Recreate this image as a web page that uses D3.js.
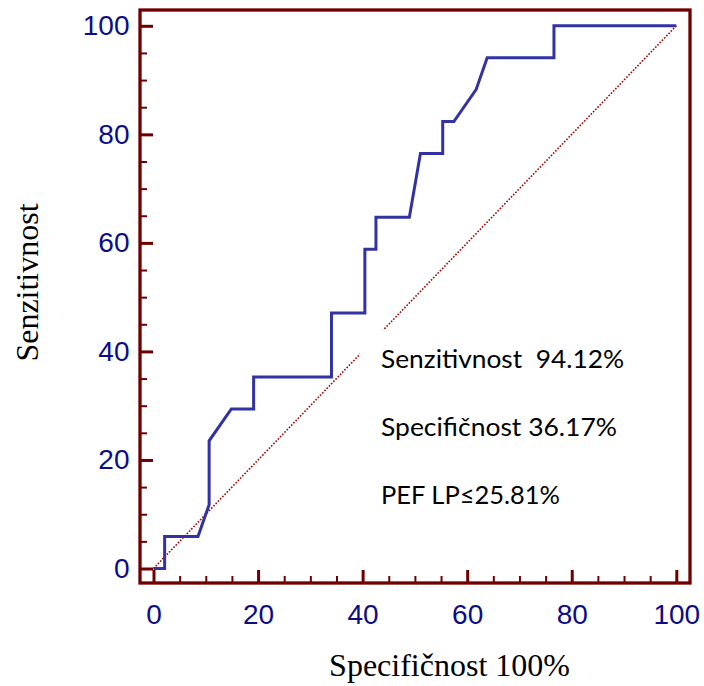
<!DOCTYPE html>
<html>
<head>
<meta charset="utf-8">
<script src="https://cdn.jsdelivr.net/npm/d3@7"></script>
<style>
  body { margin: 0; background: #fff; }
</style>
</head>
<body>
<div id="roc"></div>
<script>
// ROC curve points: 100 - specificity (x) and sensitivity (y), in %
const fpr = [0, 2.13, 2.13, 8.51, 10.64, 10.64, 14.89, 19.15, 19.15, 34.04, 34.04, 40.43, 40.43,
             42.55, 42.55, 48.94, 51.06, 55.32, 55.32, 57.45, 61.70, 63.83, 76.60, 76.60, 100];
const tpr = [0, 0, 5.88, 5.88, 11.76, 23.53, 29.41, 29.41, 35.29, 35.29, 47.06, 47.06, 58.82,
             58.82, 64.71, 64.71, 76.47, 76.47, 82.35, 82.35, 88.24, 94.12, 94.12, 100, 100];
const majorTicks = [0, 20, 40, 60, 80, 100];
const minorTicks = [5, 10, 15, 25, 30, 35, 45, 50, 55, 65, 70, 75, 85, 90, 95];
const notes = ["Senzitivnost  94.12%", "Specifičnost 36.17%", "PEF LP≤25.81%"];

let width = 704, height = 686;
let frame = { left: 140, right: 690, top: 10, bottom: 583 };

let svg = d3.select('#roc')
    .append('svg')
    .attr('width', width)
    .attr('height', height);

let xScale = d3.scaleLinear().domain([0, 100]).range([153.5, 676.3]);
let yScale = d3.scaleLinear().domain([0, 100]).range([568.5, 25.8]);

const axisColor = '#700000';
const labelColor = '#0c0c88';

// diagonal reference line (dotted)
svg.append('line')
    .attr('x1', xScale(0)).attr('y1', yScale(0))
    .attr('x2', xScale(100)).attr('y2', yScale(100))
    .attr('stroke', '#a00808')
    .attr('stroke-width', 1.6)
    .attr('stroke-dasharray', '1.6,1.6');

// white box behind the notes hides part of the diagonal
svg.append('rect')
    .attr('x', 360).attr('y', 330)
    .attr('width', 280).attr('height', 190)
    .attr('fill', '#fff');

// ROC curve
let points = fpr.map((v, i) => [v, tpr[i]]);
svg.append('path')
    .datum(points)
    .attr('fill', 'none')
    .attr('stroke', '#3232a2')
    .attr('stroke-width', 3)
    .attr('stroke-linejoin', 'miter')
    .attr('d', d3.line().x(d => xScale(d[0])).y(d => yScale(d[1])));

// minor ticks
let yMinor = svg.append('g')
    .attr('transform', `translate(${frame.left}, 0)`)
    .call(d3.axisLeft(yScale).tickValues(minorTicks).tickSize(-7).tickFormat(''));
let xMinor = svg.append('g')
    .attr('transform', `translate(0, ${frame.bottom})`)
    .call(d3.axisBottom(xScale).tickValues(minorTicks).tickSize(-7).tickFormat(''));
[yMinor, xMinor].forEach(g => {
    g.select('.domain').remove();
    g.selectAll('line').attr('stroke', axisColor).attr('stroke-width', 2);
});

// major ticks + labels
let yAxis = svg.append('g')
    .attr('transform', `translate(${frame.left}, 0)`)
    .call(d3.axisLeft(yScale).tickValues(majorTicks).tickSize(-13).tickPadding(10.5));
let xAxis = svg.append('g')
    .attr('transform', `translate(0, ${frame.bottom})`)
    .call(d3.axisBottom(xScale).tickValues(majorTicks).tickSize(-13).tickPadding(21));
[yAxis, xAxis].forEach(g => {
    g.select('.domain').remove();
    g.selectAll('line').attr('stroke', axisColor).attr('stroke-width', 3);
    g.selectAll('text')
        .attr('fill', labelColor)
        .style('font-family', '"Liberation Sans", Arial, sans-serif')
        .style('font-size', '28px');
});

// frame around plot
svg.append('rect')
    .attr('x', frame.left).attr('y', frame.top)
    .attr('width', frame.right - frame.left)
    .attr('height', frame.bottom - frame.top)
    .attr('fill', 'none')
    .attr('stroke', axisColor)
    .attr('stroke-width', 3.3);

// axis titles
svg.append('text')
    .attr('x', 449.5)
    .attr('y', 676)
    .attr('text-anchor', 'middle')
    .style('font-family', '"Liberation Serif", "Times New Roman", serif')
    .style('font-size', '32px')
    .attr('fill', '#000')
    .text('Specifičnost 100%');

svg.append('text')
    .attr('transform', 'translate(38, 282.5) rotate(-90)')
    .attr('text-anchor', 'middle')
    .style('font-family', '"Liberation Serif", "Times New Roman", serif')
    .style('font-size', '32px')
    .attr('fill', '#000')
    .text('Senzitivnost');

// notes
const noteY = [368, 436, 504];
const noteW = [243, 236, 179];
svg.selectAll('.note')
    .data(notes)
    .enter()
    .append('text')
    .attr('class', 'note')
    .attr('x', 381)
    .attr('y', (d, i) => noteY[i])
    .attr('textLength', (d, i) => noteW[i])
    .attr('lengthAdjust', 'spacingAndGlyphs')
    .style('white-space', 'pre')
    .style('font-family', 'Lato, "Open Sans", sans-serif')
    .style('font-size', '25px')
    .attr('fill', '#000')
    .text(d => d);
</script>
</body>
</html>
